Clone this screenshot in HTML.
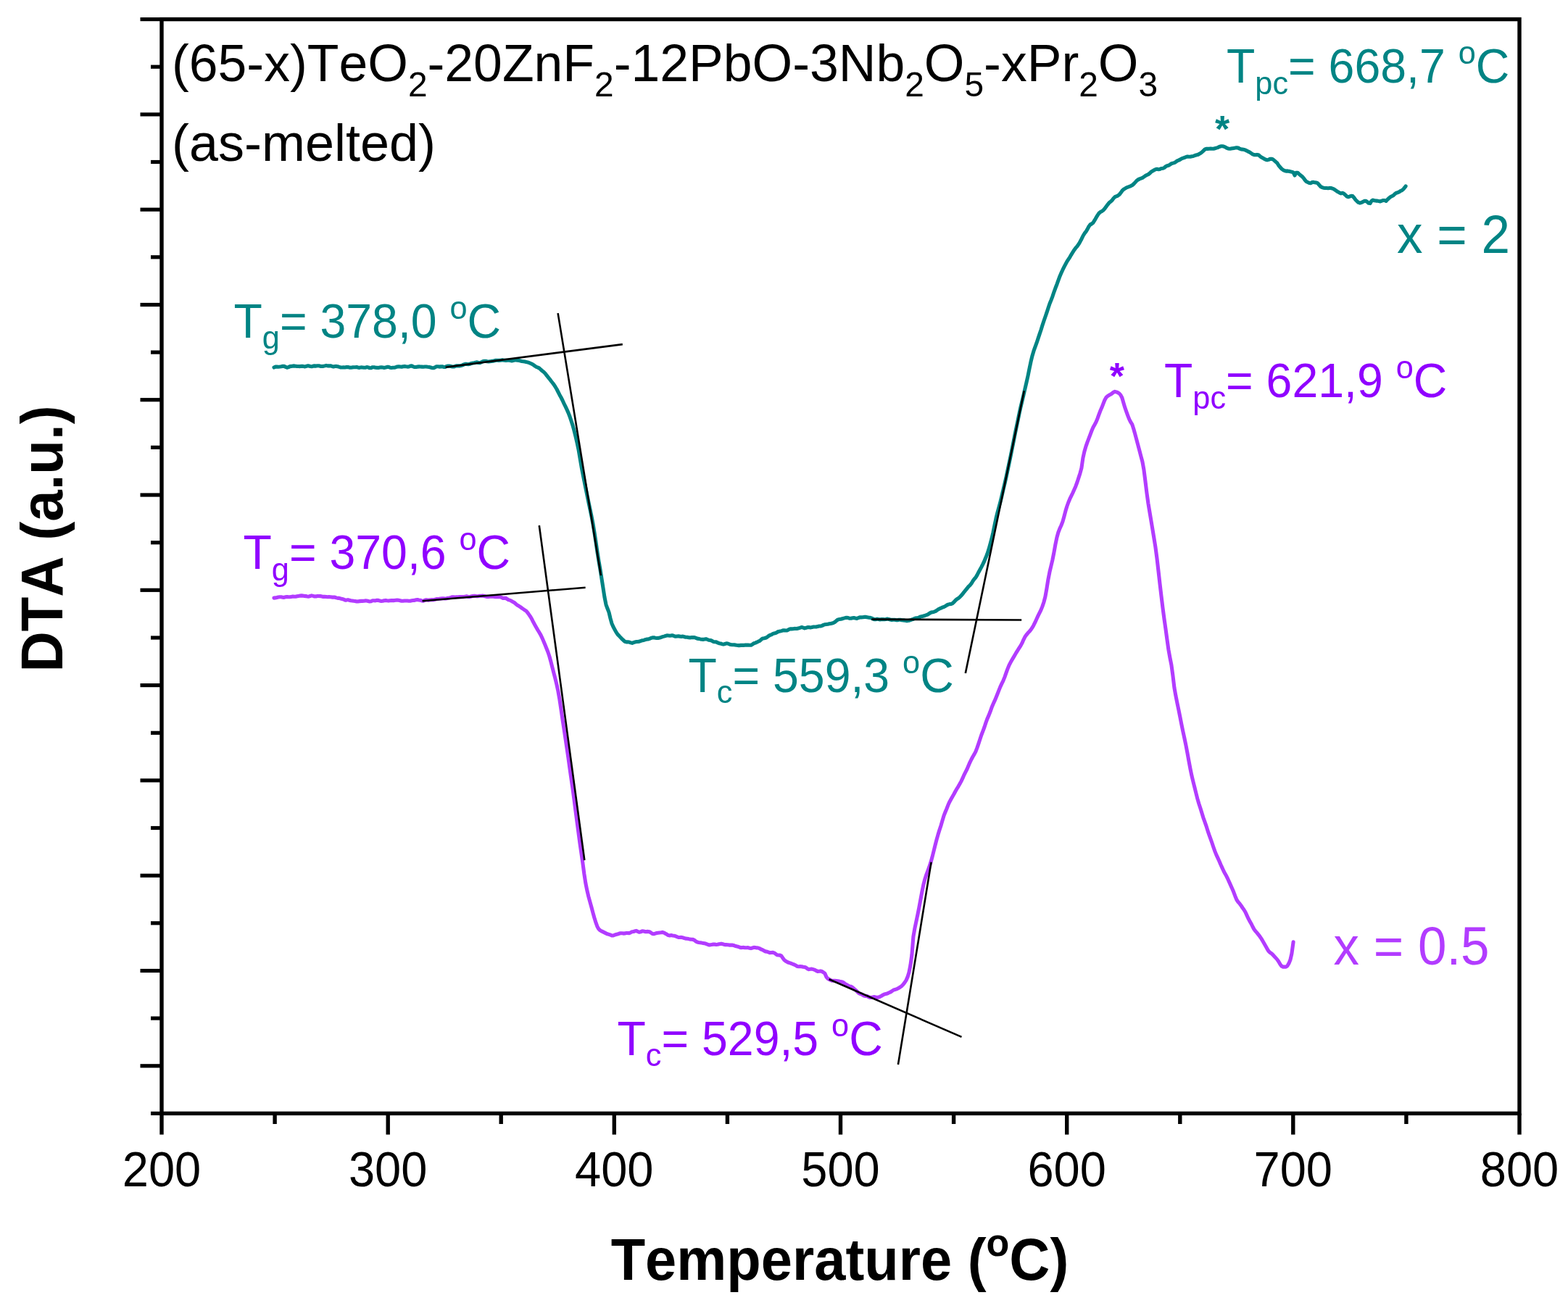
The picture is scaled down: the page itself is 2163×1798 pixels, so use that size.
<!DOCTYPE html>
<html><head><meta charset="utf-8"><title>DTA</title>
<style>html,body{margin:0;padding:0;background:#fff;}svg{display:block;}
text{font-family:"Liberation Sans",Arial,sans-serif;font-kerning:none;}</style></head>
<body><svg xmlns="http://www.w3.org/2000/svg" width="2163" height="1798" viewBox="0 0 2163 1798">
<rect width="2163" height="1798" fill="#fff"/>
<g>
<rect x="223.0" y="26.6" width="1873.0" height="1509.8" fill="none" stroke="#000" stroke-width="5.4"/>
<line x1="193.5" y1="26.6" x2="223.0" y2="26.6" stroke="#000" stroke-width="5.2"/>
<line x1="208" y1="92.2" x2="223.0" y2="92.2" stroke="#000" stroke-width="5.2"/>
<line x1="193.5" y1="157.9" x2="223.0" y2="157.9" stroke="#000" stroke-width="5.2"/>
<line x1="208" y1="223.5" x2="223.0" y2="223.5" stroke="#000" stroke-width="5.2"/>
<line x1="193.5" y1="289.2" x2="223.0" y2="289.2" stroke="#000" stroke-width="5.2"/>
<line x1="208" y1="354.8" x2="223.0" y2="354.8" stroke="#000" stroke-width="5.2"/>
<line x1="193.5" y1="420.5" x2="223.0" y2="420.5" stroke="#000" stroke-width="5.2"/>
<line x1="208" y1="486.1" x2="223.0" y2="486.1" stroke="#000" stroke-width="5.2"/>
<line x1="193.5" y1="551.7" x2="223.0" y2="551.7" stroke="#000" stroke-width="5.2"/>
<line x1="208" y1="617.4" x2="223.0" y2="617.4" stroke="#000" stroke-width="5.2"/>
<line x1="193.5" y1="683.0" x2="223.0" y2="683.0" stroke="#000" stroke-width="5.2"/>
<line x1="208" y1="748.7" x2="223.0" y2="748.7" stroke="#000" stroke-width="5.2"/>
<line x1="193.5" y1="814.3" x2="223.0" y2="814.3" stroke="#000" stroke-width="5.2"/>
<line x1="208" y1="880.0" x2="223.0" y2="880.0" stroke="#000" stroke-width="5.2"/>
<line x1="193.5" y1="945.6" x2="223.0" y2="945.6" stroke="#000" stroke-width="5.2"/>
<line x1="208" y1="1011.3" x2="223.0" y2="1011.3" stroke="#000" stroke-width="5.2"/>
<line x1="193.5" y1="1076.9" x2="223.0" y2="1076.9" stroke="#000" stroke-width="5.2"/>
<line x1="208" y1="1142.5" x2="223.0" y2="1142.5" stroke="#000" stroke-width="5.2"/>
<line x1="193.5" y1="1208.2" x2="223.0" y2="1208.2" stroke="#000" stroke-width="5.2"/>
<line x1="208" y1="1273.8" x2="223.0" y2="1273.8" stroke="#000" stroke-width="5.2"/>
<line x1="193.5" y1="1339.5" x2="223.0" y2="1339.5" stroke="#000" stroke-width="5.2"/>
<line x1="208" y1="1405.1" x2="223.0" y2="1405.1" stroke="#000" stroke-width="5.2"/>
<line x1="193.5" y1="1470.8" x2="223.0" y2="1470.8" stroke="#000" stroke-width="5.2"/>
<line x1="208" y1="1536.4" x2="223.0" y2="1536.4" stroke="#000" stroke-width="5.2"/>
<line x1="223.0" y1="1536.4" x2="223.0" y2="1565.6" stroke="#000" stroke-width="5.4"/>
<line x1="379.1" y1="1536.4" x2="379.1" y2="1551.0" stroke="#000" stroke-width="5.4"/>
<line x1="535.2" y1="1536.4" x2="535.2" y2="1565.6" stroke="#000" stroke-width="5.4"/>
<line x1="691.2" y1="1536.4" x2="691.2" y2="1551.0" stroke="#000" stroke-width="5.4"/>
<line x1="847.3" y1="1536.4" x2="847.3" y2="1565.6" stroke="#000" stroke-width="5.4"/>
<line x1="1003.4" y1="1536.4" x2="1003.4" y2="1551.0" stroke="#000" stroke-width="5.4"/>
<line x1="1159.5" y1="1536.4" x2="1159.5" y2="1565.6" stroke="#000" stroke-width="5.4"/>
<line x1="1315.6" y1="1536.4" x2="1315.6" y2="1551.0" stroke="#000" stroke-width="5.4"/>
<line x1="1471.7" y1="1536.4" x2="1471.7" y2="1565.6" stroke="#000" stroke-width="5.4"/>
<line x1="1627.8" y1="1536.4" x2="1627.8" y2="1551.0" stroke="#000" stroke-width="5.4"/>
<line x1="1783.8" y1="1536.4" x2="1783.8" y2="1565.6" stroke="#000" stroke-width="5.4"/>
<line x1="1939.9" y1="1536.4" x2="1939.9" y2="1551.0" stroke="#000" stroke-width="5.4"/>
<line x1="2096.0" y1="1536.4" x2="2096.0" y2="1565.6" stroke="#000" stroke-width="5.4"/>
<path d="M378.0 507.0 L380.0 506.1 L382.0 506.1 L384.0 506.2 L386.0 506.0 L388.0 505.7 L390.0 505.3 L392.0 505.4 L394.0 506.3 L396.0 507.2 L398.0 506.6 L400.0 505.6 L402.0 505.4 L404.0 505.1 L406.0 504.9 L408.0 505.2 L410.0 505.5 L412.0 505.5 L414.0 505.6 L416.0 505.3 L418.0 505.4 L420.0 505.9 L422.0 505.5 L424.0 504.9 L426.0 504.9 L428.0 505.5 L430.0 505.8 L432.0 505.1 L434.0 504.9 L436.0 505.1 L438.0 504.7 L440.0 504.8 L442.0 505.4 L444.0 505.5 L446.0 505.4 L448.0 504.9 L450.0 504.4 L452.0 504.9 L454.0 504.9 L456.0 504.7 L458.0 505.5 L460.0 505.9 L462.0 505.5 L464.0 505.4 L466.0 505.8 L468.0 506.4 L470.0 507.0 L472.0 507.0 L474.0 506.9 L476.0 507.0 L478.0 506.6 L480.0 506.5 L482.0 507.1 L484.0 507.3 L486.0 506.9 L488.0 506.8 L490.0 506.7 L492.0 506.5 L494.0 507.2 L496.0 507.4 L498.0 506.9 L500.0 507.0 L502.0 507.3 L504.0 507.2 L506.0 506.6 L508.0 506.9 L510.0 507.8 L512.0 507.6 L514.0 506.7 L516.0 506.8 L518.0 507.3 L520.0 507.4 L522.0 507.5 L524.0 507.1 L526.0 506.8 L528.0 507.0 L530.0 507.4 L532.0 507.1 L534.0 506.4 L536.0 506.4 L538.0 507.2 L540.0 507.5 L542.0 507.3 L544.0 507.2 L546.0 506.7 L548.0 506.0 L550.0 505.7 L552.0 506.0 L554.0 506.3 L556.0 505.7 L558.0 505.4 L560.0 505.8 L562.0 506.1 L564.0 506.0 L566.0 505.1 L568.0 504.9 L570.0 505.8 L572.0 506.5 L574.0 506.5 L576.0 506.1 L578.0 505.9 L580.0 506.0 L582.0 506.1 L584.0 506.2 L586.0 506.0 L588.0 506.0 L590.0 506.3 L592.0 506.5 L594.0 507.0 L596.0 507.7 L598.0 507.8 L600.0 506.9 L602.0 505.8 L604.0 505.7 L606.0 506.1 L608.0 505.9 L610.0 505.7 L612.0 506.4 L614.0 506.5 L616.0 505.4 L618.0 505.0 L620.0 505.1 L622.0 505.5 L624.0 506.0 L626.0 506.0 L628.0 505.3 L630.0 504.8 L632.0 504.9 L634.0 504.9 L636.0 504.6 L638.0 503.9 L640.0 502.9 L642.0 502.3 L644.0 502.4 L646.0 502.7 L648.0 502.3 L650.0 501.4 L652.0 501.0 L654.0 500.8 L656.0 500.2 L658.0 499.8 L660.0 500.5 L662.0 500.8 L664.0 499.8 L666.0 498.7 L668.0 498.2 L670.0 498.2 L672.0 498.8 L674.0 499.0 L676.0 498.7 L678.0 498.4 L680.0 498.3 L682.0 497.8 L684.0 497.2 L686.0 497.3 L688.0 497.4 L690.0 497.2 L692.0 496.9 L694.0 496.9 L696.0 497.2 L698.0 497.4 L700.0 497.2 L702.0 497.2 L704.0 497.5 L706.0 497.9 L708.0 497.5 L710.0 496.8 L712.0 496.9 L714.0 497.2 L716.0 497.4 L718.0 498.0 L720.0 498.5 L722.0 498.7 L724.0 499.0 L726.0 499.6 L728.0 499.9 L730.0 500.6 L732.0 501.5 L734.0 502.4 L736.0 503.7 L738.0 505.1 L740.0 506.4 L742.0 507.1 L744.0 508.1 L746.0 510.0 L748.0 511.7 L750.0 513.3 L752.0 515.3 L754.0 517.9 L756.0 520.4 L758.0 522.8 L760.0 525.5 L762.0 528.0 L764.0 530.6 L766.0 533.7 L768.0 537.0 L770.0 541.0 L772.0 544.9 L774.0 548.5 L776.0 552.5 L778.0 556.8 L780.0 560.8 L782.0 565.1 L784.0 569.6 L786.0 574.7 L788.0 580.7 L790.0 586.9 L792.0 594.1 L794.0 602.1 L796.0 610.6 L798.0 620.1 L800.0 631.8 L802.0 643.7 L804.0 654.1 L806.0 664.0 L808.0 674.0 L810.0 683.8 L812.0 693.4 L814.0 702.9 L816.0 712.5 L818.0 723.0 L820.0 735.1 L822.0 748.1 L824.0 761.8 L826.0 774.3 L828.0 785.9 L830.0 798.6 L832.0 811.3 L834.0 824.3 L836.0 834.3 L838.0 839.8 L840.0 844.9 L842.0 853.4 L844.0 860.5 L846.0 865.1 L848.0 868.7 L850.0 872.4 L852.0 875.4 L854.0 877.4 L856.0 879.6 L858.0 881.7 L860.0 883.5 L862.0 885.3 L864.0 885.9 L866.0 885.8 L868.0 886.0 L870.0 886.9 L872.0 887.4 L874.0 886.6 L876.0 885.9 L878.0 885.5 L880.0 885.4 L882.0 885.2 L884.0 884.4 L886.0 883.8 L888.0 883.5 L890.0 882.7 L892.0 882.1 L894.0 882.0 L896.0 881.4 L898.0 880.5 L900.0 879.9 L902.0 879.8 L904.0 880.3 L906.0 880.5 L908.0 880.4 L910.0 880.1 L912.0 879.4 L914.0 878.6 L916.0 878.1 L918.0 877.5 L920.0 876.9 L922.0 877.0 L924.0 877.2 L926.0 876.9 L928.0 876.9 L930.0 877.7 L932.0 878.3 L934.0 878.0 L936.0 877.8 L938.0 878.3 L940.0 878.4 L942.0 878.1 L944.0 878.7 L946.0 879.3 L948.0 879.3 L950.0 879.8 L952.0 879.9 L954.0 879.6 L956.0 879.6 L958.0 879.5 L960.0 880.3 L962.0 881.2 L964.0 881.4 L966.0 881.9 L968.0 882.2 L970.0 882.4 L972.0 882.1 L974.0 881.7 L976.0 882.5 L978.0 883.3 L980.0 883.5 L982.0 884.2 L984.0 885.4 L986.0 885.8 L988.0 885.9 L990.0 886.8 L992.0 887.7 L994.0 888.0 L996.0 888.7 L998.0 889.1 L1000.0 888.5 L1002.0 887.9 L1004.0 888.0 L1006.0 888.8 L1008.0 889.5 L1010.0 889.7 L1012.0 889.8 L1014.0 889.9 L1016.0 890.3 L1018.0 890.6 L1020.0 890.6 L1022.0 890.4 L1024.0 890.3 L1026.0 890.4 L1028.0 890.1 L1030.0 890.0 L1032.0 890.1 L1034.0 890.2 L1036.0 890.3 L1038.0 889.1 L1040.0 887.7 L1042.0 887.1 L1044.0 886.2 L1046.0 885.2 L1048.0 884.4 L1050.0 882.6 L1052.0 881.0 L1054.0 880.8 L1056.0 880.3 L1058.0 879.4 L1060.0 877.7 L1062.0 876.5 L1064.0 875.9 L1066.0 874.6 L1068.0 873.9 L1070.0 873.5 L1072.0 872.4 L1074.0 871.4 L1076.0 871.1 L1078.0 870.6 L1080.0 869.9 L1082.0 869.8 L1084.0 870.0 L1086.0 869.9 L1088.0 868.7 L1090.0 867.9 L1092.0 867.9 L1094.0 867.7 L1096.0 867.4 L1098.0 867.5 L1100.0 867.4 L1102.0 866.8 L1104.0 866.1 L1106.0 865.5 L1108.0 866.1 L1110.0 866.9 L1112.0 866.3 L1114.0 865.6 L1116.0 865.6 L1118.0 865.9 L1120.0 865.6 L1122.0 865.0 L1124.0 865.0 L1126.0 865.0 L1128.0 864.4 L1130.0 864.0 L1132.0 864.0 L1134.0 863.4 L1136.0 862.4 L1138.0 861.7 L1140.0 861.5 L1142.0 861.3 L1144.0 860.8 L1146.0 860.4 L1148.0 860.0 L1150.0 859.3 L1152.0 858.2 L1154.0 856.4 L1156.0 854.9 L1158.0 854.6 L1160.0 854.3 L1162.0 853.7 L1164.0 853.1 L1166.0 852.6 L1168.0 852.2 L1170.0 852.5 L1172.0 853.3 L1174.0 853.2 L1176.0 852.7 L1178.0 852.5 L1180.0 853.1 L1182.0 853.5 L1184.0 852.7 L1186.0 851.8 L1188.0 851.9 L1190.0 851.8 L1192.0 851.4 L1194.0 851.3 L1196.0 851.7 L1198.0 852.1 L1200.0 852.3 L1202.0 852.9 L1204.0 853.8 L1206.0 854.7 L1208.0 854.7 L1210.0 854.1 L1212.0 854.6 L1214.0 855.0 L1216.0 854.6 L1218.0 854.6 L1220.0 854.8 L1222.0 854.5 L1224.0 854.1 L1226.0 854.4 L1228.0 855.1 L1230.0 855.4 L1232.0 855.2 L1234.0 855.2 L1236.0 855.6 L1238.0 855.8 L1240.0 855.3 L1242.0 855.3 L1244.0 855.8 L1246.0 855.9 L1248.0 856.1 L1250.0 856.6 L1252.0 856.6 L1254.0 856.2 L1256.0 855.6 L1258.0 854.9 L1260.0 854.3 L1262.0 853.3 L1264.0 852.8 L1266.0 852.7 L1268.0 851.9 L1270.0 850.9 L1272.0 850.4 L1274.0 850.0 L1276.0 849.3 L1278.0 848.6 L1280.0 847.8 L1282.0 846.5 L1284.0 845.3 L1286.0 844.7 L1288.0 844.4 L1290.0 843.7 L1292.0 842.5 L1294.0 841.0 L1296.0 839.9 L1298.0 839.1 L1300.0 838.2 L1302.0 837.5 L1304.0 836.5 L1306.0 835.1 L1308.0 834.1 L1310.0 833.6 L1312.0 833.5 L1314.0 832.6 L1316.0 830.7 L1318.0 828.5 L1320.0 826.7 L1322.0 825.6 L1324.0 823.9 L1326.0 821.7 L1328.0 819.5 L1330.0 816.8 L1332.0 814.4 L1334.0 812.0 L1336.0 809.4 L1338.0 807.6 L1340.0 805.2 L1342.0 801.8 L1344.0 799.0 L1346.0 796.8 L1348.0 793.4 L1350.0 789.4 L1352.0 785.8 L1354.0 782.1 L1356.0 778.1 L1358.0 773.8 L1360.0 769.1 L1362.0 764.0 L1364.0 757.9 L1366.0 750.8 L1368.0 743.2 L1370.0 734.5 L1372.0 724.7 L1374.0 715.2 L1376.0 707.2 L1378.0 699.9 L1380.0 692.4 L1382.0 684.2 L1384.0 675.5 L1386.0 667.1 L1388.0 658.4 L1390.0 648.9 L1392.0 639.4 L1394.0 630.0 L1396.0 620.1 L1398.0 610.0 L1400.0 599.8 L1402.0 590.1 L1404.0 580.5 L1406.0 570.7 L1408.0 561.6 L1410.0 553.4 L1412.0 545.0 L1414.0 536.3 L1416.0 527.7 L1418.0 518.7 L1420.0 508.8 L1422.0 499.2 L1424.0 490.9 L1426.0 484.2 L1428.0 478.6 L1430.0 473.2 L1432.0 467.1 L1434.0 461.1 L1436.0 455.2 L1438.0 448.8 L1440.0 442.8 L1442.0 437.0 L1444.0 431.2 L1446.0 424.9 L1448.0 419.0 L1450.0 414.1 L1452.0 408.8 L1454.0 402.8 L1456.0 397.3 L1458.0 392.2 L1460.0 386.6 L1462.0 381.2 L1464.0 376.6 L1466.0 372.2 L1468.0 368.2 L1470.0 364.3 L1472.0 360.6 L1474.0 357.6 L1476.0 354.6 L1478.0 351.1 L1480.0 347.8 L1482.0 344.7 L1484.0 341.9 L1486.0 339.8 L1488.0 336.9 L1490.0 333.4 L1492.0 329.7 L1494.0 325.5 L1496.0 322.2 L1498.0 319.7 L1500.0 316.4 L1502.0 312.5 L1504.0 309.9 L1506.0 308.9 L1508.0 307.2 L1510.0 303.9 L1512.0 300.4 L1514.0 297.2 L1516.0 294.2 L1518.0 292.5 L1520.0 291.5 L1522.0 290.0 L1524.0 287.8 L1526.0 285.0 L1528.0 282.3 L1530.0 279.8 L1532.0 278.2 L1534.0 276.6 L1536.0 273.8 L1538.0 271.7 L1540.0 270.9 L1542.0 270.1 L1544.0 268.5 L1546.0 266.1 L1548.0 263.2 L1550.0 261.3 L1552.0 260.1 L1554.0 258.8 L1556.0 258.1 L1558.0 257.4 L1560.0 256.6 L1562.0 255.5 L1564.0 253.8 L1566.0 251.6 L1568.0 249.3 L1570.0 247.9 L1572.0 246.9 L1574.0 246.2 L1576.0 245.4 L1578.0 244.0 L1580.0 242.6 L1582.0 241.5 L1584.0 240.6 L1586.0 239.1 L1588.0 237.2 L1590.0 235.9 L1592.0 234.8 L1594.0 233.7 L1596.0 233.3 L1598.0 233.7 L1600.0 233.4 L1602.0 232.5 L1604.0 232.3 L1606.0 231.5 L1608.0 229.8 L1610.0 228.7 L1612.0 228.3 L1614.0 227.1 L1616.0 225.7 L1618.0 225.1 L1620.0 224.6 L1622.0 223.3 L1624.0 221.9 L1626.0 221.1 L1628.0 220.1 L1630.0 218.8 L1632.0 218.1 L1634.0 217.5 L1636.0 216.6 L1638.0 216.0 L1640.0 216.3 L1642.0 216.3 L1644.0 215.8 L1646.0 215.5 L1648.0 214.7 L1650.0 214.0 L1652.0 213.6 L1654.0 212.6 L1656.0 211.5 L1658.0 210.0 L1660.0 208.1 L1662.0 206.2 L1664.0 205.3 L1666.0 205.4 L1668.0 205.3 L1670.0 205.1 L1672.0 205.3 L1674.0 205.3 L1676.0 204.7 L1678.0 204.1 L1680.0 203.6 L1682.0 202.5 L1684.0 201.8 L1686.0 201.8 L1688.0 202.1 L1690.0 202.8 L1692.0 204.1 L1694.0 204.9 L1696.0 205.2 L1698.0 205.1 L1700.0 204.7 L1702.0 204.4 L1704.0 204.1 L1706.0 203.7 L1708.0 204.1 L1710.0 205.1 L1712.0 205.9 L1714.0 206.1 L1716.0 206.4 L1718.0 207.2 L1720.0 208.1 L1722.0 209.2 L1724.0 210.1 L1726.0 211.5 L1728.0 212.9 L1730.0 213.6 L1732.0 213.8 L1734.0 213.4 L1736.0 213.7 L1738.0 215.4 L1740.0 217.0 L1742.0 218.1 L1744.0 219.2 L1746.0 220.3 L1748.0 220.9 L1750.0 220.4 L1752.0 219.4 L1754.0 219.2 L1756.0 219.9 L1758.0 221.6 L1760.0 223.4 L1762.0 225.2 L1764.0 228.5 L1766.0 230.7 L1768.0 233.0 L1770.0 234.5 L1772.0 235.5 L1774.0 236.1 L1776.0 235.9 L1778.0 236.2 L1780.0 236.8 L1782.0 237.2 L1784.0 237.9 L1786.0 242.0 L1788.0 238.2 L1790.0 238.2 L1792.0 240.1 L1794.0 241.9 L1796.0 243.3 L1798.0 245.4 L1800.0 248.3 L1802.0 250.5 L1804.0 251.5 L1806.0 252.4 L1808.0 252.7 L1810.0 251.6 L1812.0 251.4 L1814.0 251.9 L1816.0 252.0 L1818.0 253.1 L1820.0 255.5 L1822.0 257.7 L1824.0 258.6 L1826.0 259.2 L1828.0 259.5 L1830.0 259.5 L1832.0 259.7 L1834.0 259.4 L1836.0 259.5 L1838.0 260.2 L1840.0 260.9 L1842.0 262.3 L1844.0 263.8 L1846.0 264.9 L1848.0 266.1 L1850.0 266.9 L1852.0 266.3 L1854.0 267.3 L1856.0 269.2 L1858.0 271.1 L1860.0 271.8 L1862.0 271.0 L1864.0 270.3 L1866.0 270.6 L1868.0 273.0 L1870.0 275.8 L1872.0 277.8 L1874.0 279.4 L1876.0 280.1 L1878.0 279.6 L1880.0 278.5 L1882.0 277.4 L1884.0 277.3 L1886.0 278.5 L1888.0 280.3 L1890.0 280.6 L1892.0 277.2 L1894.0 276.1 L1896.0 276.8 L1898.0 277.1 L1900.0 277.1 L1902.0 277.6 L1904.0 278.0 L1906.0 277.1 L1908.0 276.5 L1910.0 276.5 L1912.0 277.4 L1914.0 275.3 L1916.0 273.4 L1918.0 271.8 L1920.0 270.8 L1922.0 269.8 L1924.0 267.8 L1926.0 266.2 L1928.0 265.7 L1930.0 264.8 L1932.0 263.5 L1934.0 262.6 L1936.0 260.9 L1938.0 258.4 L1939.1 256.9" fill="none" stroke="#008484" stroke-width="5.1" stroke-linejoin="round" stroke-linecap="round"/>
<path d="M377.9 825.1 L379.9 824.9 L381.9 824.5 L383.9 824.0 L385.9 823.8 L387.9 823.8 L389.9 824.2 L391.9 824.4 L393.9 823.8 L395.9 823.5 L397.9 823.8 L399.9 823.8 L401.9 823.4 L403.9 823.0 L405.9 823.3 L407.9 823.3 L409.9 822.8 L411.9 822.4 L413.9 822.1 L415.9 821.9 L417.9 822.1 L419.9 822.4 L421.9 822.6 L423.9 823.0 L425.9 823.2 L427.9 822.5 L429.9 821.9 L431.9 822.4 L433.9 823.0 L435.9 822.9 L437.9 822.5 L439.9 822.5 L441.9 822.6 L443.9 823.0 L445.9 823.4 L447.9 823.3 L449.9 823.5 L451.9 823.8 L453.9 823.6 L455.9 823.7 L457.9 824.1 L459.9 824.1 L461.9 824.1 L463.9 824.9 L465.9 825.4 L467.9 825.4 L469.9 826.0 L471.9 826.5 L473.9 827.0 L475.9 828.1 L477.9 828.1 L479.9 827.6 L481.9 828.2 L483.9 828.8 L485.9 829.0 L487.9 829.3 L489.9 829.5 L491.9 829.9 L493.9 830.0 L495.9 829.6 L497.9 829.4 L499.9 829.4 L501.9 829.3 L503.9 828.9 L505.9 829.0 L507.9 829.5 L509.9 830.0 L511.9 829.8 L513.9 828.8 L515.9 828.8 L517.9 828.9 L519.9 828.3 L521.9 828.4 L523.9 829.1 L525.9 829.5 L527.9 829.3 L529.9 828.7 L531.9 828.4 L533.9 828.8 L535.9 829.1 L537.9 828.7 L539.9 828.5 L541.9 828.6 L543.9 828.6 L545.9 828.3 L547.9 828.1 L549.9 828.3 L551.9 828.7 L553.9 829.2 L555.9 829.2 L557.9 829.0 L559.9 829.0 L561.9 829.0 L563.9 829.2 L565.9 829.2 L567.9 828.8 L569.9 828.5 L571.9 828.4 L573.9 827.8 L575.9 827.5 L577.9 828.0 L579.9 828.3 L581.9 828.9 L583.9 829.3 L585.9 828.3 L587.9 827.8 L589.9 828.1 L591.9 828.1 L593.9 827.7 L595.9 827.6 L597.9 827.7 L599.9 827.3 L601.9 826.6 L603.9 826.5 L605.9 826.3 L607.9 826.0 L609.9 825.8 L611.9 825.8 L613.9 826.0 L615.9 825.8 L617.9 825.3 L619.9 824.9 L621.9 824.4 L623.9 823.8 L625.9 823.9 L627.9 824.0 L629.9 823.7 L631.9 823.7 L633.9 823.6 L635.9 823.6 L637.9 823.6 L639.9 823.6 L641.9 823.2 L643.9 822.8 L645.9 823.5 L647.9 823.7 L649.9 823.0 L651.9 822.5 L653.9 822.3 L655.9 822.4 L657.9 822.7 L659.9 822.6 L661.9 822.3 L663.9 822.2 L665.9 822.1 L667.9 822.4 L669.9 823.1 L671.9 823.4 L673.9 823.5 L675.9 823.3 L677.9 823.0 L679.9 823.1 L681.9 823.4 L683.9 823.7 L685.9 823.8 L687.9 823.8 L689.9 823.7 L691.9 824.5 L693.9 825.5 L695.9 825.3 L697.9 825.4 L699.9 826.8 L701.9 827.9 L703.9 828.4 L705.9 829.6 L707.9 830.7 L709.9 831.8 L711.9 833.7 L713.9 835.2 L715.9 836.3 L717.9 837.6 L719.9 839.1 L721.9 840.5 L723.9 841.9 L725.9 843.2 L727.9 845.5 L729.9 848.4 L731.9 851.3 L733.9 854.8 L735.9 858.8 L737.9 862.4 L739.9 865.9 L741.9 869.5 L743.9 872.7 L745.9 876.1 L747.9 880.3 L749.9 884.9 L751.9 889.7 L753.9 894.7 L755.9 899.8 L757.9 905.8 L759.9 913.0 L761.9 920.8 L763.9 928.6 L765.9 936.2 L767.9 944.4 L769.9 953.7 L771.9 965.0 L773.9 978.3 L775.9 992.2 L777.9 1005.2 L779.9 1018.4 L781.9 1031.8 L783.9 1045.4 L785.9 1059.8 L787.9 1073.9 L789.9 1087.6 L791.9 1102.5 L793.9 1118.3 L795.9 1133.3 L797.9 1148.4 L799.9 1163.4 L801.9 1177.1 L803.9 1191.1 L805.9 1206.2 L807.9 1219.1 L809.9 1228.9 L811.9 1237.3 L813.9 1244.6 L815.9 1251.7 L817.9 1259.3 L819.9 1266.5 L821.9 1272.9 L823.9 1278.4 L825.9 1281.9 L827.9 1283.8 L829.9 1284.9 L831.9 1285.9 L833.9 1286.9 L835.9 1287.9 L837.9 1288.8 L839.9 1289.4 L841.9 1290.0 L843.9 1290.9 L845.9 1291.0 L847.9 1290.2 L849.9 1289.5 L851.9 1289.1 L853.9 1288.3 L855.9 1287.7 L857.9 1287.8 L859.9 1288.1 L861.9 1287.9 L863.9 1287.5 L865.9 1287.5 L867.9 1287.6 L869.9 1286.8 L871.9 1285.8 L873.9 1285.5 L875.9 1284.8 L877.9 1284.4 L879.9 1285.5 L881.9 1286.3 L883.9 1285.8 L885.9 1284.9 L887.9 1285.0 L889.9 1285.6 L891.9 1285.6 L893.9 1285.4 L895.9 1285.8 L897.9 1287.0 L899.9 1288.4 L901.9 1288.7 L903.9 1288.1 L905.9 1287.5 L907.9 1287.2 L909.9 1287.0 L911.9 1286.8 L913.9 1286.4 L915.9 1287.1 L917.9 1288.2 L919.9 1289.3 L921.9 1290.6 L923.9 1291.0 L925.9 1290.6 L927.9 1291.0 L929.9 1291.3 L931.9 1291.7 L933.9 1292.7 L935.9 1293.5 L937.9 1293.5 L939.9 1293.4 L941.9 1293.8 L943.9 1294.5 L945.9 1295.1 L947.9 1295.3 L949.9 1295.6 L951.9 1296.1 L953.9 1296.2 L955.9 1296.4 L957.9 1297.3 L959.9 1298.9 L961.9 1300.0 L963.9 1300.4 L965.9 1300.7 L967.9 1301.1 L969.9 1301.4 L971.9 1301.8 L973.9 1302.3 L975.9 1303.1 L977.9 1303.9 L979.9 1303.9 L981.9 1303.4 L983.9 1303.0 L985.9 1303.1 L987.9 1303.5 L989.9 1303.3 L991.9 1302.7 L993.9 1302.4 L995.9 1302.4 L997.9 1303.0 L999.9 1303.6 L1001.9 1303.6 L1003.9 1303.7 L1005.9 1304.1 L1007.9 1304.1 L1009.9 1304.1 L1011.9 1304.5 L1013.9 1305.2 L1015.9 1305.8 L1017.9 1306.2 L1019.9 1307.0 L1021.9 1307.7 L1023.9 1307.5 L1025.9 1307.4 L1027.9 1307.8 L1029.9 1307.8 L1031.9 1307.6 L1033.9 1308.2 L1035.9 1308.6 L1037.9 1308.0 L1039.9 1307.4 L1041.9 1307.5 L1043.9 1307.9 L1045.9 1308.0 L1047.9 1308.8 L1049.9 1310.0 L1051.9 1310.7 L1053.9 1311.9 L1055.9 1312.9 L1057.9 1313.1 L1059.9 1313.8 L1061.9 1314.6 L1063.9 1314.5 L1065.9 1314.3 L1067.9 1314.9 L1069.9 1316.2 L1071.9 1317.7 L1073.9 1318.0 L1075.9 1318.1 L1077.9 1319.1 L1079.9 1322.0 L1081.9 1324.7 L1083.9 1326.2 L1085.9 1327.4 L1087.9 1328.3 L1089.9 1328.9 L1091.9 1329.7 L1093.9 1330.5 L1095.9 1331.2 L1097.9 1332.3 L1099.9 1333.4 L1101.9 1333.7 L1103.9 1333.5 L1105.9 1333.7 L1107.9 1334.3 L1109.9 1334.5 L1111.9 1335.2 L1113.9 1336.8 L1115.9 1337.6 L1117.9 1337.3 L1119.9 1337.1 L1121.9 1337.6 L1123.9 1338.3 L1125.9 1339.4 L1127.9 1340.4 L1129.9 1340.2 L1131.9 1339.9 L1133.9 1340.5 L1135.9 1341.8 L1137.9 1343.3 L1139.9 1348.1 L1141.9 1350.4 L1143.9 1351.4 L1145.9 1352.5 L1147.9 1353.3 L1149.9 1353.3 L1151.9 1353.2 L1153.9 1353.5 L1155.9 1353.8 L1157.9 1354.1 L1159.9 1354.6 L1161.9 1355.0 L1163.9 1356.1 L1165.9 1357.7 L1167.9 1358.8 L1169.9 1360.0 L1171.9 1360.9 L1173.9 1361.3 L1175.9 1362.4 L1177.9 1364.3 L1179.9 1365.9 L1181.9 1367.7 L1183.9 1369.8 L1185.9 1371.1 L1187.9 1371.7 L1189.9 1372.8 L1191.9 1374.1 L1193.9 1374.4 L1195.9 1374.5 L1197.9 1375.6 L1199.9 1376.4 L1201.9 1376.4 L1203.9 1376.0 L1205.9 1375.6 L1207.9 1376.0 L1209.9 1376.5 L1211.9 1376.1 L1213.9 1375.3 L1215.9 1374.2 L1217.9 1373.0 L1219.9 1371.9 L1221.9 1371.5 L1223.9 1371.1 L1225.9 1370.0 L1227.9 1369.2 L1229.9 1368.0 L1231.9 1366.5 L1233.9 1365.7 L1235.9 1365.1 L1237.9 1364.3 L1239.9 1363.2 L1241.9 1362.0 L1243.9 1360.6 L1245.9 1358.5 L1247.9 1355.9 L1249.9 1352.9 L1251.9 1348.4 L1253.9 1341.9 L1255.9 1332.0 L1257.9 1317.6 L1259.9 1292.5 L1261.9 1281.0 L1263.9 1271.4 L1265.9 1262.0 L1267.9 1252.0 L1269.9 1241.3 L1271.9 1230.5 L1273.9 1220.7 L1275.9 1213.0 L1277.9 1206.9 L1279.9 1201.6 L1281.9 1196.2 L1283.9 1190.1 L1285.9 1183.0 L1287.9 1175.0 L1289.9 1166.8 L1291.9 1159.2 L1293.9 1152.1 L1295.9 1145.6 L1297.9 1139.5 L1299.9 1132.6 L1301.9 1125.9 L1303.9 1120.8 L1305.9 1116.0 L1307.9 1110.8 L1309.9 1106.4 L1311.9 1102.8 L1313.9 1099.2 L1315.9 1095.8 L1317.9 1092.0 L1319.9 1088.5 L1321.9 1085.3 L1323.9 1081.8 L1325.9 1078.1 L1327.9 1073.9 L1329.9 1069.3 L1331.9 1065.3 L1333.9 1061.5 L1335.9 1056.8 L1337.9 1052.1 L1339.9 1048.0 L1341.9 1044.2 L1343.9 1040.9 L1345.9 1037.1 L1347.9 1031.9 L1349.9 1026.1 L1351.9 1020.0 L1353.9 1014.0 L1355.9 1008.9 L1357.9 1003.5 L1359.9 997.4 L1361.9 991.9 L1363.9 987.4 L1365.9 982.3 L1367.9 976.6 L1369.9 971.8 L1371.9 967.4 L1373.9 962.7 L1375.9 957.7 L1377.9 952.6 L1379.9 947.6 L1381.9 943.3 L1383.9 939.3 L1385.9 934.4 L1387.9 928.7 L1389.9 923.1 L1391.9 918.2 L1393.9 914.3 L1395.9 910.8 L1397.9 907.4 L1399.9 903.9 L1401.9 900.5 L1403.9 897.4 L1405.9 894.2 L1407.9 891.1 L1409.9 887.4 L1411.9 882.8 L1413.9 878.8 L1415.9 876.0 L1417.9 873.6 L1419.9 871.5 L1421.9 869.2 L1423.9 866.2 L1425.9 862.7 L1427.9 858.7 L1429.9 854.3 L1431.9 849.9 L1433.9 845.9 L1435.9 841.9 L1437.9 836.9 L1439.9 831.0 L1441.9 823.4 L1443.9 812.3 L1445.9 799.7 L1447.9 789.4 L1449.9 781.0 L1451.9 772.6 L1453.9 762.4 L1455.9 751.2 L1457.9 741.7 L1459.9 734.5 L1461.9 729.3 L1463.9 725.0 L1465.9 719.9 L1467.9 712.8 L1469.9 705.1 L1471.9 698.5 L1473.9 693.0 L1475.9 688.2 L1477.9 684.2 L1479.9 680.0 L1481.9 675.5 L1483.9 670.9 L1485.9 665.5 L1487.9 659.4 L1489.9 653.2 L1491.9 645.8 L1493.9 632.0 L1495.9 623.0 L1497.9 616.1 L1499.9 610.3 L1501.9 605.1 L1503.9 599.8 L1505.9 594.5 L1507.9 589.8 L1509.9 586.2 L1511.9 582.5 L1513.9 577.7 L1515.9 572.1 L1517.9 566.8 L1519.9 562.3 L1521.9 557.1 L1523.9 552.0 L1525.9 548.4 L1527.9 546.6 L1529.9 545.3 L1531.9 544.2 L1533.9 543.0 L1535.9 541.3 L1537.9 540.4 L1539.9 540.9 L1541.9 541.7 L1543.9 542.9 L1545.9 545.1 L1547.9 549.0 L1549.9 556.0 L1551.9 562.7 L1553.9 568.4 L1555.9 573.8 L1557.9 578.9 L1559.9 582.7 L1561.9 585.9 L1563.9 592.2 L1565.9 599.4 L1567.9 606.9 L1569.9 614.3 L1571.9 621.8 L1573.9 629.6 L1575.9 637.0 L1577.9 648.0 L1579.9 663.6 L1581.9 680.0 L1583.9 694.3 L1585.9 706.5 L1587.9 718.4 L1589.9 730.4 L1591.9 742.5 L1593.9 754.9 L1595.9 769.9 L1597.9 787.1 L1599.9 804.7 L1601.9 821.8 L1603.9 838.2 L1605.9 853.3 L1607.9 867.4 L1609.9 882.2 L1611.9 896.4 L1613.9 907.5 L1615.9 917.5 L1617.9 932.1 L1619.9 948.7 L1621.9 960.1 L1623.9 970.1 L1625.9 979.5 L1627.9 989.4 L1629.9 999.7 L1631.9 1009.4 L1633.9 1018.6 L1635.9 1028.3 L1637.9 1038.8 L1639.9 1049.8 L1641.9 1060.5 L1643.9 1070.2 L1645.9 1078.5 L1647.9 1086.4 L1649.9 1094.5 L1651.9 1102.4 L1653.9 1109.3 L1655.9 1115.2 L1657.9 1121.7 L1659.9 1128.3 L1661.9 1133.9 L1663.9 1139.6 L1665.9 1145.9 L1667.9 1151.9 L1669.9 1157.3 L1671.9 1163.0 L1673.9 1169.0 L1675.9 1174.6 L1677.9 1179.6 L1679.9 1183.9 L1681.9 1188.3 L1683.9 1193.0 L1685.9 1197.4 L1687.9 1201.8 L1689.9 1205.6 L1691.9 1209.1 L1693.9 1213.2 L1695.9 1217.6 L1697.9 1222.1 L1699.9 1226.5 L1701.9 1231.3 L1703.9 1236.7 L1705.9 1241.5 L1707.9 1244.6 L1709.9 1246.7 L1711.9 1249.4 L1713.9 1252.5 L1715.9 1255.2 L1717.9 1258.5 L1719.9 1262.9 L1721.9 1267.3 L1723.9 1270.9 L1725.9 1274.4 L1727.9 1278.5 L1729.9 1282.3 L1731.9 1284.9 L1733.9 1287.2 L1735.9 1289.7 L1737.9 1292.2 L1739.9 1295.1 L1741.9 1298.5 L1743.9 1302.0 L1745.9 1305.5 L1747.9 1309.1 L1749.9 1312.4 L1751.9 1314.3 L1753.9 1315.7 L1755.9 1317.5 L1757.9 1319.7 L1759.9 1321.9 L1761.9 1324.1 L1763.9 1327.0 L1765.9 1330.5 L1767.9 1333.2 L1769.9 1334.1 L1771.9 1334.1 L1773.9 1334.1 L1775.9 1332.8 L1777.9 1329.4 L1779.9 1324.6 L1781.9 1315.9 L1783.9 1301.4 L1784.1 1299.8" fill="none" stroke="#b23cff" stroke-width="5.1" stroke-linejoin="round" stroke-linecap="round"/>
<line x1="614.6" y1="506.7" x2="858.8" y2="475.1" stroke="#000" stroke-width="2.6"/>
<line x1="769.6" y1="432.1" x2="828.9" y2="794.1" stroke="#000" stroke-width="2.6"/>
<line x1="1202.3" y1="854.6" x2="1409.2" y2="855.5" stroke="#000" stroke-width="2.6"/>
<line x1="1412.8" y1="539.2" x2="1331.8" y2="928.9" stroke="#000" stroke-width="2.6"/>
<line x1="582.6" y1="829.3" x2="807.6" y2="810.7" stroke="#000" stroke-width="2.6"/>
<line x1="743.8" y1="725.0" x2="806.3" y2="1187.0" stroke="#000" stroke-width="2.6"/>
<line x1="1143.6" y1="1351.3" x2="1326.5" y2="1430.9" stroke="#000" stroke-width="2.6"/>
<line x1="1284.6" y1="1189.6" x2="1238.9" y2="1469.0" stroke="#000" stroke-width="2.6"/>
<text transform="translate(1692.0 114.3) scale(1.0065 1.040)" font-size="64.0" fill="#008484">T<tspan font-size="43" dy="15.0">pc</tspan><tspan dy="-15.0">= 668,7 </tspan><tspan font-size="43" dy="-25.0">o</tspan><tspan dy="25.0">C</tspan></text>
<text transform="translate(322.5 465.7) scale(1.0065 1.040)" font-size="64.0" fill="#008484">T<tspan font-size="43" dy="15.0">g</tspan><tspan dy="-15.0">= 378,0 </tspan><tspan font-size="43" dy="-25.0">o</tspan><tspan dy="25.0">C</tspan></text>
<text transform="translate(949.5 954.8) scale(1.0065 1.040)" font-size="64.0" fill="#008484">T<tspan font-size="43" dy="15.0">c</tspan><tspan dy="-15.0">= 559,3 </tspan><tspan font-size="43" dy="-25.0">o</tspan><tspan dy="25.0">C</tspan></text>
<text transform="translate(1606.0 548.0) scale(1.0065 1.040)" font-size="64.0" fill="#9000ff">T<tspan font-size="43" dy="15.0">pc</tspan><tspan dy="-15.0">= 621,9 </tspan><tspan font-size="43" dy="-25.0">o</tspan><tspan dy="25.0">C</tspan></text>
<text transform="translate(335.5 785.2) scale(1.0065 1.040)" font-size="64.0" fill="#9000ff">T<tspan font-size="43" dy="15.0">g</tspan><tspan dy="-15.0">= 370,6 </tspan><tspan font-size="43" dy="-25.0">o</tspan><tspan dy="25.0">C</tspan></text>
<text transform="translate(851.5 1455.8) scale(1.0065 1.040)" font-size="64.0" fill="#9000ff">T<tspan font-size="43" dy="15.0">c</tspan><tspan dy="-15.0">= 529,5 </tspan><tspan font-size="43" dy="-25.0">o</tspan><tspan dy="25.0">C</tspan></text>
<text transform="translate(1686.2 196.0) scale(1.0000 1.000)" font-size="52" font-weight="bold" fill="#008484" text-anchor="middle">*</text>
<text transform="translate(1540.8 537.0) scale(1.0000 1.000)" font-size="52" font-weight="bold" fill="#9000ff" text-anchor="middle">*</text>
<text transform="translate(1927.0 348.6) scale(1.0000 1.040)" font-size="71" fill="#008484">x = 2</text>
<text transform="translate(1839.5 1330.8) scale(1.0000 1.040)" font-size="71" fill="#b23cff">x = 0.5</text>
<text transform="translate(237.0 112.4) scale(0.9936 1.015)" font-size="72">(65-x)TeO<tspan font-size="48.2" dy="20.5">2</tspan><tspan dy="-20.5">-20ZnF<tspan font-size="48.2" dy="20.5">2</tspan><tspan dy="-20.5">-12PbO-3Nb<tspan font-size="48.2" dy="20.5">2</tspan><tspan dy="-20.5">O<tspan font-size="48.2" dy="20.5">5</tspan><tspan dy="-20.5">-xPr<tspan font-size="48.2" dy="20.5">2</tspan><tspan dy="-20.5">O<tspan font-size="48.2" dy="20.5">3</tspan></tspan></tspan></tspan></tspan></tspan></text>
<text transform="translate(237.0 221.7) scale(1.0000 1.015)" font-size="72">(as-melted)</text>
<text transform="translate(223.0 1637.0) scale(1.0000 1.040)" font-size="65" text-anchor="middle">200</text>
<text transform="translate(535.2 1637.0) scale(1.0000 1.040)" font-size="65" text-anchor="middle">300</text>
<text transform="translate(847.3 1637.0) scale(1.0000 1.040)" font-size="65" text-anchor="middle">400</text>
<text transform="translate(1159.5 1637.0) scale(1.0000 1.040)" font-size="65" text-anchor="middle">500</text>
<text transform="translate(1471.7 1637.0) scale(1.0000 1.040)" font-size="65" text-anchor="middle">600</text>
<text transform="translate(1783.8 1637.0) scale(1.0000 1.040)" font-size="65" text-anchor="middle">700</text>
<text transform="translate(2096.0 1637.0) scale(1.0000 1.040)" font-size="65" text-anchor="middle">800</text>
<text transform="translate(1158.5 1765.8) scale(0.9957 1.040)" font-size="78" font-weight="bold" text-anchor="middle">Temperature (<tspan font-size="52.3" dy="-31.2">o</tspan><tspan dy="31.2">C)</tspan></text>
<text transform="translate(86.3 743.5) rotate(-90) scale(1.0000 1.040)" font-size="78" font-weight="bold" text-anchor="middle">DTA (a.u.)</text>
</g>
</svg></body></html>
